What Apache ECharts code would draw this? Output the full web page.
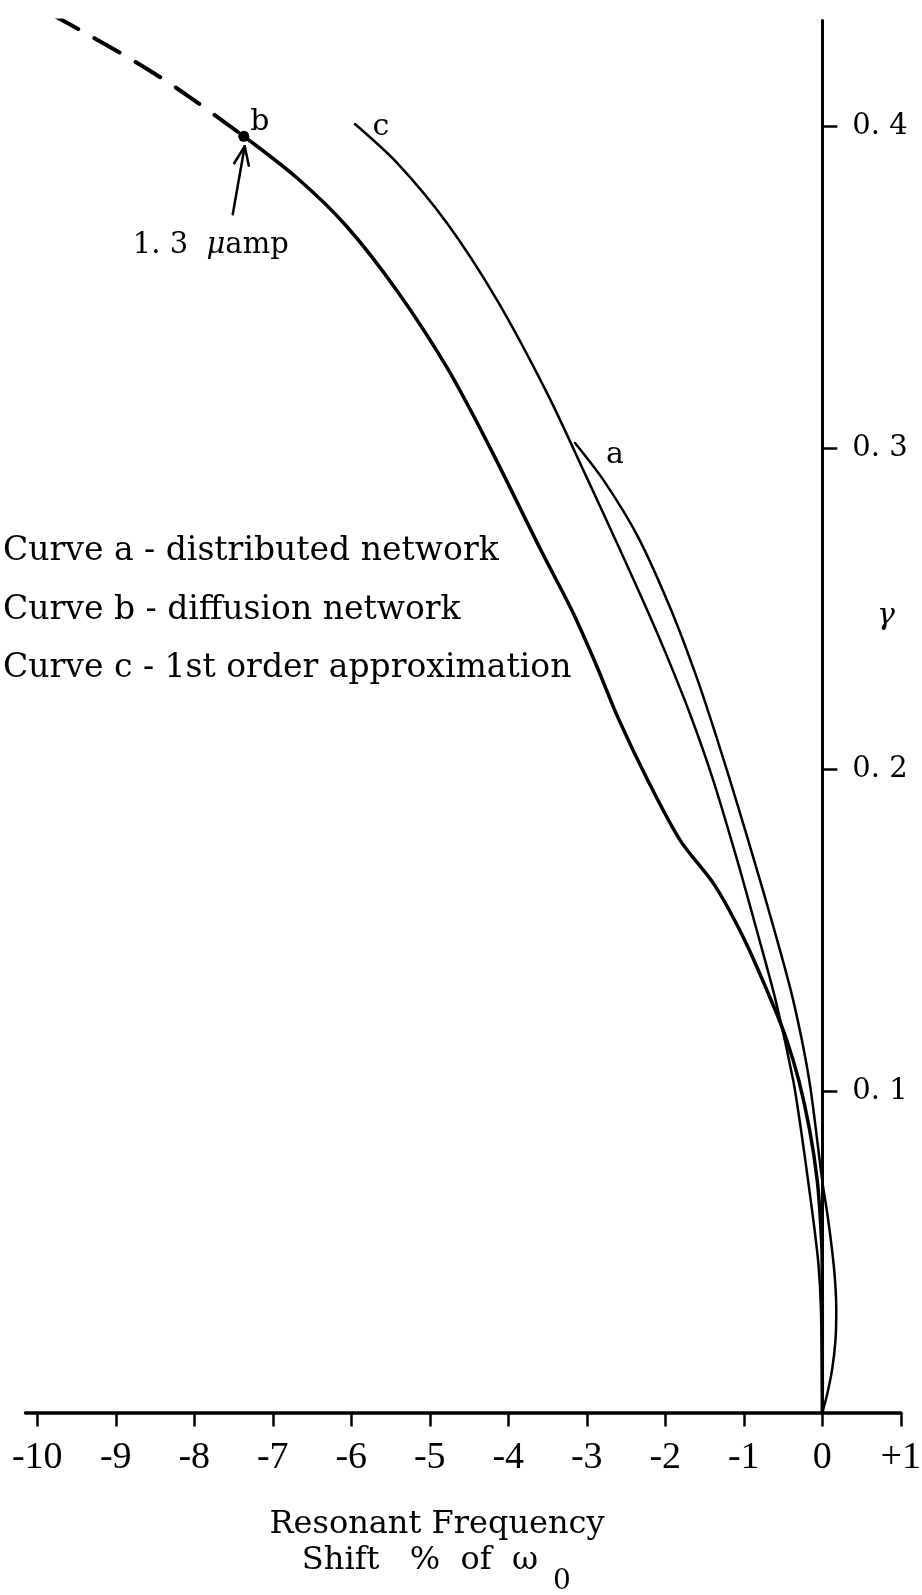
<!DOCTYPE html>
<html>
<head>
<meta charset="utf-8">
<script src="https://cdn.jsdelivr.net/npm/echarts@6/dist/echarts.min.js"></script>
<style>
  html, body { margin: 0; padding: 0; background: #ffffff; }
  #chart { width: 922px; height: 1595px; }
</style>
</head>
<body>
<div id="chart"></div>
<script>
// Resonant frequency shift (% of ω0) against γ for three network models.

const xTickValues = [-10, -9, -8, -7, -6, -5, -4, -3, -2, -1, 0, 1];
const xTickLabels = ['-10', '-9', '-8', '-7', '-6', '-5', '-4', '-3', '-2', '-1', '0', '+1'];
const yTickValues = [0.1, 0.2, 0.3, 0.4];
const yTickLabels = ['0. 1', '0. 2', '0. 3', '0. 4'];

// Curve a: distributed network  [shift %, γ]
const curveA = [
  [-3.150, 0.3016], [-2.781, 0.2898], [-2.348, 0.2724], [-1.927, 0.2497], [-1.589, 0.2279],
  [-1.336, 0.2092], [-1.099, 0.1906], [-0.870, 0.1719], [-0.611, 0.1501], [-0.371, 0.1283],
  [-0.167, 0.1035], [0, 0.0720], [0.066, 0.0615], [0.124, 0.0506], [0.162, 0.0412],
  [0.178, 0.0319], [0.168, 0.0226], [0.124, 0.0132], [0.060, 0.0055], [0, 0]
];

// Curve b: diffusion network, measured part (starts at the 1.3 μamp point)
const curveB = [
  [-7.37, 0.397], [-6.69, 0.384], [-6.06, 0.369], [-5.42, 0.349], [-4.78, 0.325],
  [-4.23, 0.300], [-3.60, 0.269], [-3.18, 0.249], [-2.87, 0.232], [-2.60, 0.216],
  [-2.23, 0.197], [-1.81, 0.178], [-1.37, 0.164], [-0.99, 0.147], [-0.63, 0.127],
  [-0.454, 0.1159], [-0.301, 0.1035], [-0.161, 0.0879], [-0.065, 0.0723], [-0.024, 0.0599],
  [-0.003, 0.0490], [0, 0.035], [0, 0]
];

// Curve b: extension beyond 1.3 μamp (dashed)
const curveBExtension = [
  [-9.80, 0.4347], [-9.07, 0.4247], [-8.54, 0.4170], [-8.06, 0.4092], [-7.37, 0.397]
];

// Curve c: 1st order approximation
const curveC = [
  [-5.953, 0.4008], [-5.417, 0.3887], [-4.782, 0.3700], [-4.145, 0.3461], [-3.506, 0.3171],
  [-3.015, 0.2916], [-2.587, 0.2689], [-2.248, 0.2506], [-1.996, 0.2363], [-1.685, 0.2173],
  [-1.391, 0.1968], [-1.085, 0.1719], [-0.836, 0.1501], [-0.595, 0.1283], [-0.371, 0.1034],
  [-0.271, 0.0879], [-0.182, 0.0723], [-0.106, 0.0583], [-0.048, 0.0459], [-0.017, 0.0319], [0, 0]
];

const legendLines = [
  'Curve a - distributed network',
  'Curve b - diffusion network',
  'Curve c - 1st order approximation'
];

const SERIF = '"DejaVu Serif", "Liberation Serif", serif';
const TICK_FONT = '"Liberation Serif", "DejaVu Serif", serif';
const INK = '#000000';

// plotting frame
const X_MIN = -10.15, X_MAX = 1, Y_MIN = 0, Y_MAX = 0.433;
const GRID = { left: 25.5, top: 20.5, width: 875.3, height: 1392.1 };
// the γ axis stands at zero shift, inside the frame
const yAxisShift = -GRID.width * (X_MAX - 0) / (X_MAX - X_MIN);

const chart = echarts.init(document.getElementById('chart'), null, { renderer: 'canvas' });

function curveSeries(name, data, width, extra) {
  return Object.assign({
    name: name,
    type: 'line',
    data: data,
    symbol: 'none',
    smooth: 0.3,
    silent: true,
    lineStyle: { color: INK, width: width, cap: 'round', join: 'round' },
    z: 3
  }, extra || {});
}

const bData = curveB.map(function (p, i) {
  return i === 0
    ? { value: p, symbol: 'circle', symbolSize: 11, itemStyle: { color: INK } }
    : { value: p };
});

chart.setOption({
  animation: false,
  backgroundColor: '#ffffff',
  grid: {
    left: GRID.left, top: GRID.top, width: GRID.width, height: GRID.height,
    containLabel: false, outerBoundsMode: 'none'
  },
  xAxis: {
    type: 'value',
    min: X_MIN, max: X_MAX,
    axisLine: { show: true, onZero: false, lineStyle: { color: INK, width: 3.5 } },
    axisTick: {
      show: true, customValues: xTickValues, length: 14, inside: false,
      lineStyle: { color: INK, width: 2.5 }
    },
    axisLabel: {
      show: true, customValues: xTickValues, margin: 26,
      color: INK, fontFamily: TICK_FONT, fontSize: 38,
      formatter: function (v) { return xTickLabels[xTickValues.indexOf(Math.round(v))]; }
    },
    splitLine: { show: false }
  },
  yAxis: {
    type: 'value',
    min: Y_MIN, max: Y_MAX,
    position: 'right',
    offset: yAxisShift,
    axisLine: { show: true, onZero: false, lineStyle: { color: INK, width: 3 } },
    axisTick: {
      show: true, customValues: yTickValues, length: 15, inside: false,
      lineStyle: { color: INK, width: 2.5 }
    },
    axisLabel: {
      show: true, customValues: yTickValues, margin: 30,
      color: INK, fontFamily: SERIF, fontSize: 29,
      formatter: function (v) {
        const k = yTickValues.findIndex(function (t) { return Math.abs(t - Number(v)) < 1e-6; });
        return k >= 0 ? yTickLabels[k] : '';
      }
    },
    splitLine: { show: false }
  },
  series: [
    curveSeries('a', curveA, 2.5),
    curveSeries('b', bData, 3.5),
    curveSeries('b-extension', curveBExtension, 4, {
      lineStyle: { color: INK, width: 4, type: [29, 18.5], cap: 'round' }
    }),
    curveSeries('c', curveC, 2.5)
  ]
});

// Annotations placed relative to the curves' own points
function px(p) { return chart.convertToPixel({ gridIndex: 0 }, p); }

const dot = px(curveB[0]);
const aStart = px(curveA[0]);
const cStart = px(curveC[0]);

const tip = [dot[0] + 1, dot[1] + 10];
const tail = [dot[0] - 11, dot[1] + 78];
const ang = Math.atan2(tail[1] - tip[1], tail[0] - tip[0]);
const wing = 20, spread = 0.38;
const w1 = [tip[0] + wing * Math.cos(ang - spread), tip[1] + wing * Math.sin(ang - spread)];
const w2 = [tip[0] + wing * Math.cos(ang + spread), tip[1] + wing * Math.sin(ang + spread)];

function txt(text, x, y, size, opts) {
  return {
    type: 'text', x: x, y: y, silent: true,
    style: Object.assign({
      text: text, fill: INK, font: size + 'px ' + SERIF,
      align: 'left', verticalAlign: 'middle'
    }, opts || {})
  };
}

chart.setOption({
  graphic: [
    { type: 'line', silent: true, shape: { x1: tail[0], y1: tail[1], x2: tip[0], y2: tip[1] },
      style: { stroke: INK, lineWidth: 2.5, lineCap: 'round' } },
    { type: 'polyline', silent: true, shape: { points: [w1, tip, w2] },
      style: { stroke: INK, lineWidth: 2.5, fill: null, lineCap: 'round', lineJoin: 'round' } },
    txt('b', dot[0] + 16, dot[1] - 14, 30, { align: 'center' }),
    txt('c', cStart[0] + 26, cStart[1] + 3, 30, { align: 'center' }),
    txt('a', aStart[0] + 40, aStart[1] + 12, 30, { align: 'center' }),
    txt('{n|1. 3  }{m|\u03bc}{n|amp}', dot[0] - 33, dot[1] + 109, 29, {
      align: 'center',
      rich: {
        n: { font: '29px ' + SERIF, fill: INK },
        m: { font: 'italic 29px ' + SERIF, fill: INK }
      }
    }),
    txt(legendLines[0], 3, 551, 33),
    txt(legendLines[1], 3, 610, 33),
    txt(legendLines[2], 3, 668, 33),
    txt('\u03b3', 886, 616, 30, { align: 'center', font: 'italic 30px ' + SERIF }),
    txt('Resonant Frequency', 437, 1525, 32, { align: 'center' }),
    txt('Shift   %  of  \u03c9', 420, 1561, 32, { align: 'center' }),
    txt('0', 562, 1582, 28, { align: 'center' })
  ]
});
</script>
</body>
</html>
